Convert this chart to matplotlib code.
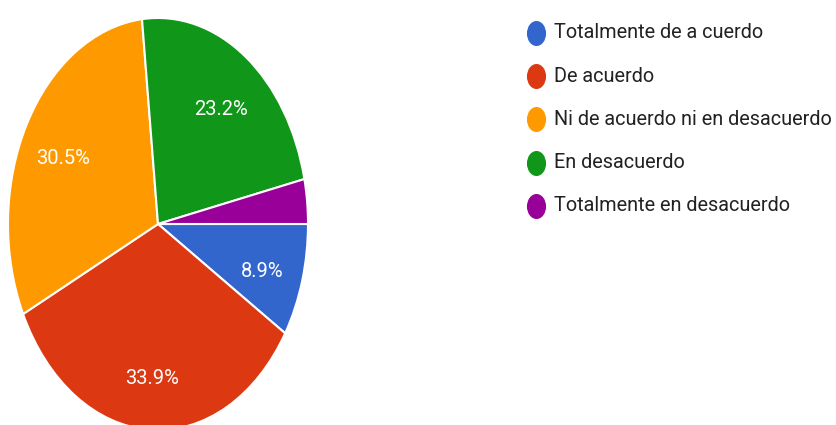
import matplotlib
matplotlib.use('Agg')
import matplotlib.pyplot as plt
from matplotlib.lines import Line2D
from matplotlib.path import Path
from matplotlib.transforms import Affine2D

labels = ['Totalmente de a cuerdo', 'De acuerdo', 'Ni de acuerdo ni en desacuerdo',
          'En desacuerdo', 'Totalmente en desacuerdo']
values = [8.9, 33.9, 30.5, 23.2, 3.5]
colors = ['#3366CC', '#DC3912', '#FF9900', '#109618', '#990099']

plt.rcParams['font.family'] = ['Roboto', 'DejaVu Sans']

W, H = 836, 425
fig = plt.figure(figsize=(W / 100, H / 100), dpi=100)

# pie is stretched vertically in the reference, so use a non-square axes
ax = fig.add_axes([8 / W, -5 / H, 300 / W, 412 / H])


def pct_label(p):
    return '%.1f%%' % p if p >= 5 else ''


wedges, texts, autotexts = ax.pie(values, colors=colors, startangle=0, counterclock=False,
                                  autopct=pct_label, pctdistance=0.72,
                                  wedgeprops=dict(edgecolor='white', linewidth=1.5))
for t in autotexts:
    t.set_color('white')
    t.set_fontsize(14.5)
    x, y = t.get_position()
    t.set_position((x, y - 0.03))
ax.set_aspect('auto')
ax.set_xlim(-1, 1)
ax.set_ylim(-1, 1)

# legend drawn by hand: ellipse markers + text
ell = Path.unit_circle().transformed(Affine2D().scale(0.75, 1.0))
for i, (lab, col) in enumerate(zip(labels, colors)):
    y = 1 - (33 + 43.2 * i) / H
    fig.add_artist(Line2D([536 / W], [y], transform=fig.transFigure, marker=ell,
                          markersize=17, color=col, linestyle='none'))
    fig.text(554 / W, y, lab, fontsize=14.3, color='#222222', va='center', ha='left')

fig.savefig('out.png', dpi=100)
